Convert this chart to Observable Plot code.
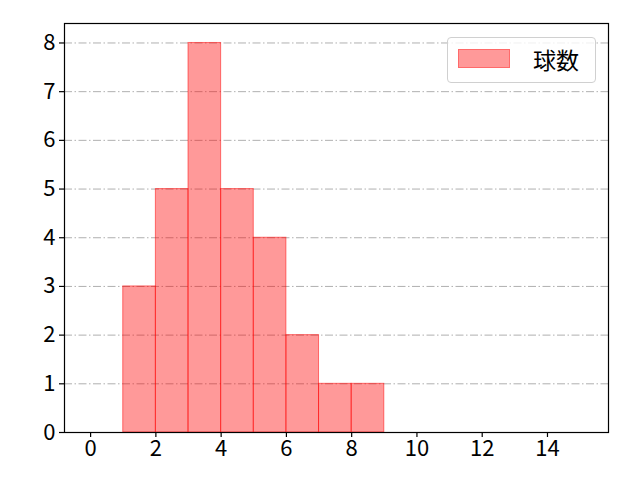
<!DOCTYPE html>
<html>
<head>
<meta charset="utf-8">
<script src="https://cdn.jsdelivr.net/npm/d3@7"></script>
<script src="https://cdn.jsdelivr.net/npm/@observablehq/plot@0.6"></script>
<style>
  body { margin: 0; background: #fff; }
  #wrap { position: relative; width: 640px; height: 480px; font-family: "Noto Sans CJK JP", "DejaVu Sans", sans-serif; }
  #legend { position: absolute; left: 447px; top: 37px; width: 147px; height: 44px; border: 1px solid #d0d0d0; border-radius: 4px; background: rgba(255,255,255,0.8); }
  #legend .patch { position: absolute; left: 10px; top: 11px; width: 52px; height: 19px; background: rgba(255,0,0,0.4); border: 1px solid rgba(255,0,0,0.3); box-sizing: border-box; }
  #legend .label { position: absolute; left: 85px; top: 5px; font-size: 23px; line-height: 32px; color: #000; }
</style>
</head>
<body>
<div id="wrap"></div>
<script>
const binStart = [1, 2, 3, 4, 5, 6, 7, 8];
const binEnd   = [2, 3, 4, 5, 6, 7, 8, 9];
const counts   = [3, 5, 8, 5, 4, 2, 1, 1];
const xTicks = [0, 2, 4, 6, 8, 10, 12, 14];
const yTicks = [0, 1, 2, 3, 4, 5, 6, 7, 8];
const seriesName = "球数";

const bins = binStart.map((s, i) => ({x1: s, x2: binEnd[i], y: counts[i]}));

const chart = Plot.plot({
  width: 640,
  height: 480,
  marginLeft: 64,
  marginRight: 32,
  marginTop: 23,
  marginBottom: 48,
  style: {fontFamily: "'Noto Sans CJK JP', sans-serif", fontSize: "22px", color: "#000", background: "#fff"},
  x: {domain: [-0.8, 15.87], label: null},
  y: {domain: [0, 8.4], label: null},
  marks: [
    Plot.ruleY(yTicks.filter(d => d > 0), {stroke: "#b0b0b0", strokeWidth: 1, strokeDasharray: "8,2.5,1.5,2.5"}),
    Plot.rectY(bins, {x1: "x1", x2: "x2", y: "y", fill: "red", fillOpacity: 0.4, stroke: "red", strokeOpacity: 0.5, strokeWidth: 1, inset: 0}),
    Plot.axisX({ticks: xTicks, tickSize: 5, tickPadding: 3, stroke: "#000", strokeWidth: 1.2, fontSize: 22, label: null}),
    Plot.axisY({ticks: yTicks, tickSize: 5, tickPadding: 4, stroke: "#000", strokeWidth: 1.2, fontSize: 22, label: null}),
    Plot.frame({stroke: "#000", strokeWidth: 1.2})
  ]
});

const wrap = document.getElementById("wrap");
wrap.appendChild(chart);
const legend = document.createElement("div");
legend.id = "legend";
legend.innerHTML = `<div class="patch"></div><div class="label">${seriesName}</div>`;
wrap.appendChild(legend);
</script>
</body>
</html>
